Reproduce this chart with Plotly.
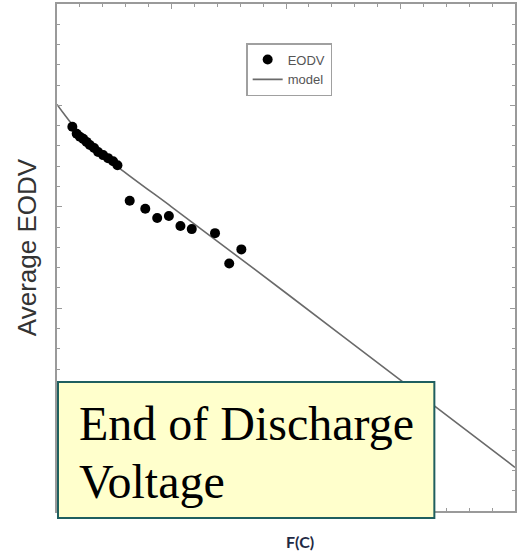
import plotly.graph_objects as go

# Scatter data (Average EODV vs F(C)), arbitrary axis units (no tick labels)
eodv_x = [0.134, 0.172, 0.2, 0.229, 0.258, 0.287, 0.324, 0.359, 0.403, 0.446, 0.49, 0.528,
          0.635, 0.771, 0.875, 0.977, 1.078, 1.177, 1.38, 1.504, 1.61]
eodv_y = [3.79, 3.72, 3.69, 3.67, 3.64, 3.61, 3.58, 3.54, 3.51, 3.48, 3.45, 3.41,
          3.06, 2.98, 2.89, 2.91, 2.81, 2.78, 2.74, 2.44, 2.58]

# Model curve
model_x = [0.0, 0.052, 0.113, 0.2, 0.33, 0.548, 1.0, 2.0, 3.0, 4.0]
model_y = [4.01, 3.93, 3.84, 3.73, 3.60, 3.38, 3.0, 2.15, 1.29, 0.43]

W, H = 519, 557
L, R, T, B = 57, 2, 4, 46
pw, ph = W - L - R, H - T - B

def px(x):
    return (x - L) / pw

def py(y):
    return (H - B - y) / ph

fig = go.Figure()
fig.add_trace(go.Scatter(x=model_x, y=model_y, mode="lines", name="model",
                         line=dict(color="#6a6a6a", width=1.6, shape="spline", smoothing=0.6)))
fig.add_trace(go.Scatter(x=eodv_x, y=eodv_y, mode="markers", name="EODV",
                         marker=dict(color="black", size=10)))

axis_common = dict(showticklabels=False, showgrid=False, zeroline=False,
                   showline=True, mirror="ticks", linecolor="#9a9a9a", linewidth=1.5,
                   ticks="inside", tickcolor="#9a9a9a", ticklen=5, tickwidth=1,
                   tick0=0, dtick=1,
                   minor=dict(ticks="inside", dtick=0.2, ticklen=3, tickcolor="#9a9a9a"))
fig.update_xaxes(range=[0, 4], **axis_common)
fig.update_yaxes(range=[0, 5], **axis_common)

# yellow text box
fig.add_shape(type="rect", xref="paper", yref="paper",
              x0=px(58), x1=px(436), y0=py(518), y1=py(382),
              fillcolor="#FFFFCC", line=dict(color="#1F5F5F", width=2), layer="above")
fig.add_annotation(xref="paper", yref="paper", x=px(77), y=py(423), xanchor="left", yanchor="middle",
                   text="End of Discharge", showarrow=False,
                   font=dict(family="Liberation Serif", size=48, color="black"))
fig.add_annotation(xref="paper", yref="paper", x=px(77), y=py(481), xanchor="left", yanchor="middle",
                   text="Voltage", showarrow=False,
                   font=dict(family="Liberation Serif", size=48, color="black"))

# axis titles
fig.add_annotation(xref="paper", yref="paper", x=px(27), y=py(247), xanchor="center", yanchor="middle",
                   text="Average EODV", textangle=-90, showarrow=False,
                   font=dict(family="Liberation Sans", size=26, color="#333333"))
fig.add_annotation(xref="paper", yref="paper", x=px(301), y=py(541), xanchor="center", yanchor="middle",
                   text="<b>F(C)</b>", showarrow=False,
                   font=dict(family="Lato", size=16, color="#1F2A44"))

fig.update_layout(
    width=W, height=H, margin=dict(l=L, r=R, t=T, b=B),
    paper_bgcolor="white", plot_bgcolor="white",
    showlegend=True,
    legend=dict(x=px(247), y=py(43), xanchor="left", yanchor="top",
                bgcolor="white", bordercolor="#a0a0a0", borderwidth=1.5,
                font=dict(family="Liberation Sans", size=13, color="#555555"),
                traceorder="reversed", itemwidth=30, entrywidth=50, entrywidthmode="pixels"),
)

fig.write_html("out.html", config={"displayModeBar": False},
               post_script="document.body.style.margin='0';document.body.style.overflow='hidden';")
